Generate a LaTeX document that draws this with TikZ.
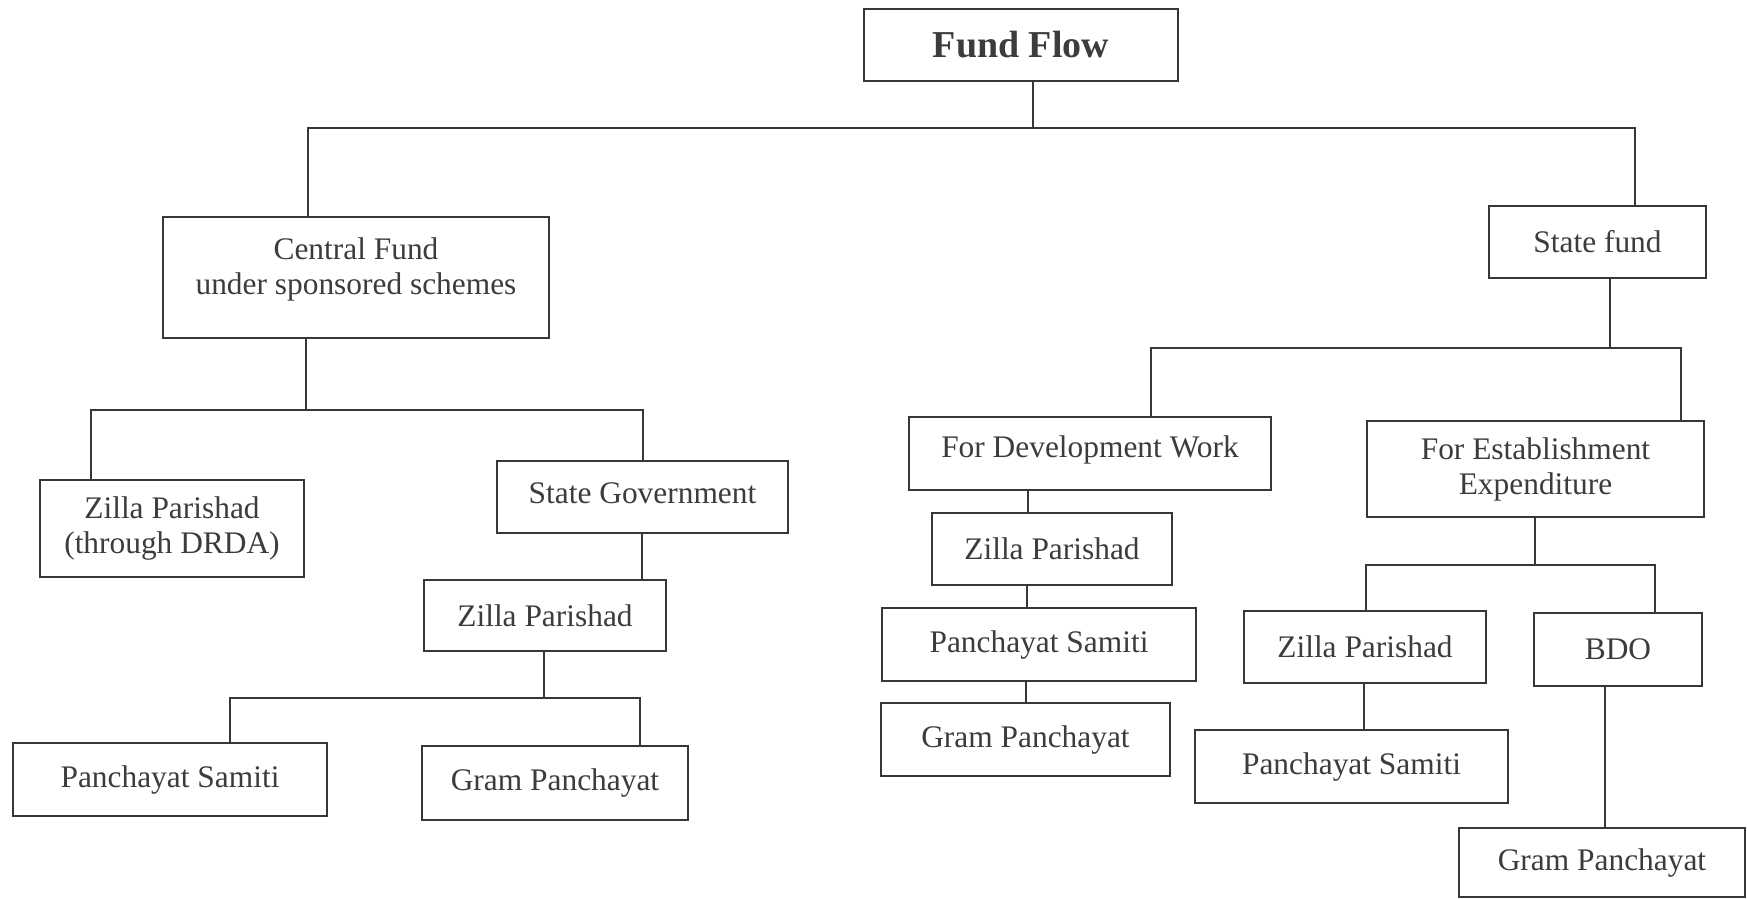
\documentclass[tikz,border=0pt]{standalone}
\usepackage{fontspec}
\setmainfont{Liberation Serif}
\definecolor{ink}{RGB}{55,55,55}
\definecolor{txt}{RGB}{60,60,60}
\newcommand\boxnode[7][]{%
  \pgfmathsetmacro\bw{(#5-#3)*0.5}%
  \pgfmathsetmacro\bh{(#6-#4)*0.5}%
  \node[box,minimum width=\bw pt,minimum height=\bh pt,#1] (#2) at ({(#3+#5)/2},{(#4+#6)/2}) {#7};}
\begin{document}
\begin{tikzpicture}[x=0.5pt,y=-0.5pt,
  box/.style={draw=ink,line width=1.2pt,inner sep=0pt,align=center,text=txt,
    font=\fontsize{15.7pt}{17.5pt}\selectfont},
  link/.style={draw=ink,line width=1.1pt}]
\useasboundingbox[fill=white] (0,0) rectangle (1747,899);

% boxes
\boxnode[font=\fontsize{19pt}{21pt}\selectfont\bfseries]{ff}{864}{9}{1178}{81}{Fund Flow}
\boxnode{cf}{163}{217}{549}{338}{\raisebox{4pt}[\height][\depth]{\begin{tabular}{@{}c@{}}Central Fund\\under sponsored schemes\end{tabular}}}
\boxnode{sf}{1489}{206}{1706}{278}{State fund}
\boxnode{zpd}{40}{480}{304}{577}{Zilla Parishad\\(through DRDA)}
\boxnode{sg}{497}{461}{788}{533}{\raisebox{2pt}[\height][\depth]{State Government}}
\boxnode{zp}{424}{580}{666}{651}{Zilla Parishad}
\boxnode{ps}{13}{743}{327}{816}{Panchayat Samiti}
\boxnode{gp}{422}{746}{688}{820}{Gram Panchayat}
\boxnode{fdw}{909}{417}{1271}{490}{\raisebox{2pt}[\height][\depth]{For Development Work}}
\boxnode{zpm}{932}{513}{1172}{585}{Zilla Parishad}
\boxnode{psm}{882}{608}{1196}{681}{Panchayat Samiti}
\boxnode{gpm}{881}{703}{1170}{776}{Gram Panchayat}
\boxnode{fee}{1367}{421}{1704}{517}{For Establishment\\Expenditure}
\boxnode{zpr}{1244}{611}{1486}{683}{Zilla Parishad}
\boxnode{bdo}{1534}{613}{1702}{686}{BDO}
\boxnode{psr}{1195}{730}{1508}{803}{Panchayat Samiti}
\boxnode{gpr}{1459}{828}{1745}{897}{Gram Panchayat}

% junction coordinates
\coordinate (a0) at (1033,128);
\coordinate (a1) at (308,128);
\coordinate (a2) at (1635,128);
\coordinate (b0) at (306,410);
\coordinate (b1) at (91,410);
\coordinate (b2) at (643,410);
\coordinate (c0) at (544,698);
\coordinate (c1) at (230,698);
\coordinate (c2) at (640,698);
\coordinate (d0) at (1610,348);
\coordinate (d1) at (1151,348);
\coordinate (d2) at (1681,348);
\coordinate (e0) at (1535,565);
\coordinate (e1) at (1366,565);
\coordinate (e2) at (1655,565);
\coordinate (v1) at (642,0);
\coordinate (v2) at (1028,0);
\coordinate (v3) at (1027,0);
\coordinate (v4) at (1026,0);
\coordinate (v5) at (1364,0);
\coordinate (v6) at (1605,0);

% connectors
\draw[link] (ff.south -| a0) -- (a0);
\draw[link] (cf.north -| a1) -- (a1) -- (a2) -- (sf.north -| a2);
\draw[link] (cf.south -| b0) -- (b0);
\draw[link] (zpd.north -| b1) -- (b1) -- (b2) -- (sg.north -| b2);
\draw[link] (sg.south -| v1) -- (zp.north -| v1);
\draw[link] (zp.south -| c0) -- (c0);
\draw[link] (ps.north -| c1) -- (c1) -- (c2) -- (gp.north -| c2);
\draw[link] (sf.south -| d0) -- (d0);
\draw[link] (fdw.north -| d1) -- (d1) -- (d2) -- (fee.north -| d2);
\draw[link] (fdw.south -| v2) -- (zpm.north -| v2);
\draw[link] (zpm.south -| v3) -- (psm.north -| v3);
\draw[link] (psm.south -| v4) -- (gpm.north -| v4);
\draw[link] (fee.south -| e0) -- (e0);
\draw[link] (zpr.north -| e1) -- (e1) -- (e2) -- (bdo.north -| e2);
\draw[link] (zpr.south -| v5) -- (psr.north -| v5);
\draw[link] (bdo.south -| v6) -- (gpr.north -| v6);
\end{tikzpicture}
\end{document}
